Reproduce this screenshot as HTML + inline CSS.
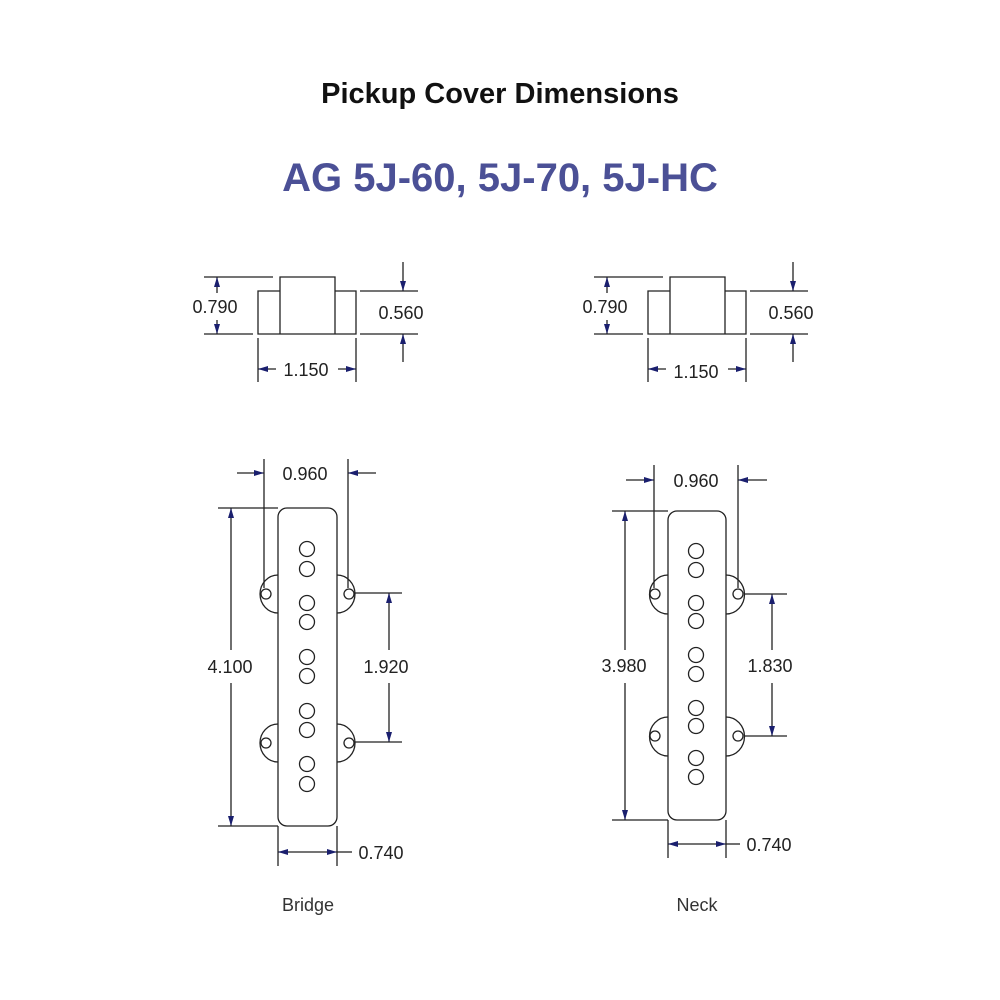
<!DOCTYPE html>
<html><head><meta charset="utf-8"><style>
html,body{margin:0;padding:0;background:#fff;}
svg{display:block;}
text{font-family:"Liberation Sans",sans-serif;}
</style></head><body>
<svg width="1000" height="1000" viewBox="0 0 1000 1000" xmlns="http://www.w3.org/2000/svg">
<defs>
<marker id="a" markerWidth="10" markerHeight="6" refX="10" refY="3" orient="auto" markerUnits="userSpaceOnUse">
<path d="M0,0 L10,3 L0,6 Z" fill="#1a1f6e"/>
</marker>
</defs>
<rect width="1000" height="1000" fill="#fff"/>
<text x="500" y="103" font-size="29" font-weight="bold" text-anchor="middle" fill="#111">Pickup Cover Dimensions</text>
<text x="500" y="191" font-size="40" font-weight="bold" text-anchor="middle" fill="#4b5096">AG 5J-60, 5J-70, 5J-HC</text>

<g stroke="#222" stroke-width="1.3" fill="none">
<g id="tv">
<path d="M258,334 V291 H280 V277 H335 V291 H356 V334 Z M280,291 V334 M335,291 V334"/>
<line x1="204" y1="277" x2="273" y2="277"/>
<line x1="204" y1="334" x2="253" y2="334"/>
<line x1="217" y1="293" x2="217" y2="277" marker-end="url(#a)"/>
<line x1="217" y1="320" x2="217" y2="334" marker-end="url(#a)"/>
<line x1="360" y1="291" x2="418" y2="291"/>
<line x1="360" y1="334" x2="418" y2="334"/>
<line x1="403" y1="262" x2="403" y2="291" marker-end="url(#a)"/>
<line x1="403" y1="362" x2="403" y2="334" marker-end="url(#a)"/>
<line x1="258" y1="338" x2="258" y2="382"/>
<line x1="356" y1="338" x2="356" y2="382"/>
<line x1="276" y1="369" x2="258" y2="369" marker-end="url(#a)"/>
<line x1="338" y1="369" x2="356" y2="369" marker-end="url(#a)"/>
</g>
<use href="#tv" transform="translate(390,0)"/>

<rect x="278" y="508" width="59" height="318" rx="9"/>
<path d="M278,575 A18,19 0 0 0 278,613 M337,575 A18,19 0 0 1 337,613 M278,724 A18,19 0 0 0 278,762 M337,724 A18,19 0 0 1 337,762"/>
<circle cx="266" cy="594" r="5"/><circle cx="349" cy="594" r="5"/>
<circle cx="266" cy="743" r="5"/><circle cx="349" cy="743" r="5"/>
<circle cx="307" cy="549" r="7.5"/><circle cx="307" cy="569" r="7.5"/>
<circle cx="307" cy="603" r="7.5"/><circle cx="307" cy="622" r="7.5"/>
<circle cx="307" cy="657" r="7.5"/><circle cx="307" cy="676" r="7.5"/>
<circle cx="307" cy="711" r="7.5"/><circle cx="307" cy="730" r="7.5"/>
<circle cx="307" cy="764" r="7.5"/><circle cx="307" cy="784" r="7.5"/>
<line x1="264" y1="459" x2="264" y2="588"/>
<line x1="348" y1="459" x2="348" y2="588"/>
<line x1="237" y1="473" x2="264" y2="473" marker-end="url(#a)"/>
<line x1="376" y1="473" x2="348" y2="473" marker-end="url(#a)"/>
<line x1="218" y1="508" x2="278" y2="508"/>
<line x1="218" y1="826" x2="278" y2="826"/>
<line x1="231" y1="650" x2="231" y2="508" marker-end="url(#a)"/>
<line x1="231" y1="683" x2="231" y2="826" marker-end="url(#a)"/>
<line x1="355" y1="593" x2="402" y2="593"/>
<line x1="355" y1="742" x2="402" y2="742"/>
<line x1="389" y1="650" x2="389" y2="593" marker-end="url(#a)"/>
<line x1="389" y1="683" x2="389" y2="742" marker-end="url(#a)"/>
<line x1="278" y1="826" x2="278" y2="866"/>
<line x1="337" y1="826" x2="337" y2="866"/>
<line x1="307" y1="852" x2="278" y2="852" marker-end="url(#a)"/>
<line x1="307" y1="852" x2="337" y2="852" marker-end="url(#a)"/>
<line x1="337" y1="852" x2="352" y2="852"/>

<rect x="668" y="511" width="58" height="309" rx="9"/>
<path d="M668,575 A18,19 0 0 0 668,614 M726,575 A18,19 0 0 1 726,614 M668,717 A18,19 0 0 0 668,756 M726,717 A18,19 0 0 1 726,756"/>
<circle cx="655" cy="594" r="5"/><circle cx="738" cy="594" r="5"/>
<circle cx="655" cy="736" r="5"/><circle cx="738" cy="736" r="5"/>
<circle cx="696" cy="551" r="7.5"/><circle cx="696" cy="570" r="7.5"/>
<circle cx="696" cy="603" r="7.5"/><circle cx="696" cy="621" r="7.5"/>
<circle cx="696" cy="655" r="7.5"/><circle cx="696" cy="674" r="7.5"/>
<circle cx="696" cy="708" r="7.5"/><circle cx="696" cy="726" r="7.5"/>
<circle cx="696" cy="758" r="7.5"/><circle cx="696" cy="777" r="7.5"/>
<line x1="654" y1="465" x2="654" y2="588"/>
<line x1="738" y1="465" x2="738" y2="588"/>
<line x1="626" y1="480" x2="654" y2="480" marker-end="url(#a)"/>
<line x1="767" y1="480" x2="738" y2="480" marker-end="url(#a)"/>
<line x1="612" y1="511" x2="668" y2="511"/>
<line x1="612" y1="820" x2="668" y2="820"/>
<line x1="625" y1="650" x2="625" y2="511" marker-end="url(#a)"/>
<line x1="625" y1="683" x2="625" y2="820" marker-end="url(#a)"/>
<line x1="744" y1="594" x2="787" y2="594"/>
<line x1="744" y1="736" x2="787" y2="736"/>
<line x1="772" y1="650" x2="772" y2="594" marker-end="url(#a)"/>
<line x1="772" y1="683" x2="772" y2="736" marker-end="url(#a)"/>
<line x1="668" y1="820" x2="668" y2="858"/>
<line x1="726" y1="820" x2="726" y2="858"/>
<line x1="697" y1="844" x2="668" y2="844" marker-end="url(#a)"/>
<line x1="697" y1="844" x2="726" y2="844" marker-end="url(#a)"/>
<line x1="726" y1="844" x2="740" y2="844"/>
</g>

<g font-size="18" fill="#222">
<text x="215" y="313" text-anchor="middle">0.790</text>
<text x="401" y="319" text-anchor="middle">0.560</text>
<text x="306" y="376" text-anchor="middle">1.150</text>
<text x="605" y="313" text-anchor="middle">0.790</text>
<text x="791" y="319" text-anchor="middle">0.560</text>
<text x="696" y="378" text-anchor="middle">1.150</text>

<text x="305" y="480" text-anchor="middle">0.960</text>
<text x="230" y="673" text-anchor="middle">4.100</text>
<text x="386" y="673" text-anchor="middle">1.920</text>
<text x="381" y="859" text-anchor="middle">0.740</text>

<text x="696" y="487" text-anchor="middle">0.960</text>
<text x="624" y="672" text-anchor="middle">3.980</text>
<text x="770" y="672" text-anchor="middle">1.830</text>
<text x="769" y="851" text-anchor="middle">0.740</text>
</g>
<text x="308" y="911" font-size="18" text-anchor="middle" fill="#333">Bridge</text>
<text x="697" y="911" font-size="18" text-anchor="middle" fill="#333">Neck</text>
</svg>
</body></html>
